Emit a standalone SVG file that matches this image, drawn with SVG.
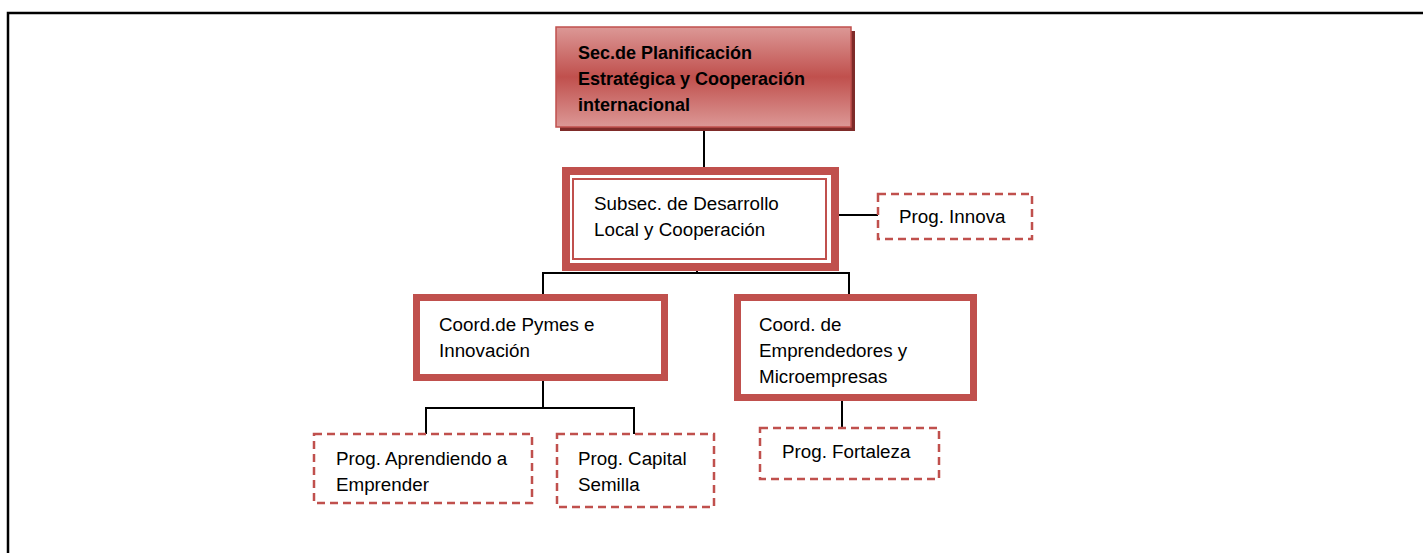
<svg xmlns="http://www.w3.org/2000/svg" width="1423" height="553" viewBox="0 0 1423 553">
<style>
text{font-family:"Liberation Sans",Arial,sans-serif;font-size:18.8px;fill:#000}
.b{font-weight:bold;font-size:18px}
.thick{fill:#fff;stroke:#c0504d;stroke-width:7}
.dash{fill:#fff;stroke:#c0504d;stroke-width:2.5;stroke-dasharray:8 5}
.con line,.con path{stroke:#000;stroke-width:2;fill:none}
</style>
<defs>
<linearGradient id="g" x1="0" y1="0" x2="0" y2="1">
<stop offset="0" stop-color="#dc9896"/>
<stop offset="0.5" stop-color="#c0504d"/>
<stop offset="1" stop-color="#dc9896"/>
</linearGradient>
</defs>
<rect width="1423" height="553" fill="#fff"/>
<path d="M8,553 V13 H1423" fill="none" stroke="#000" stroke-width="2.5"/>
<g class="con">
<line x1="704" y1="127" x2="704" y2="168"/>
<line x1="839" y1="215" x2="878" y2="215"/>
<path d="M697,271 V273 M543,294 V273 H849 V294"/>
<path d="M543,381 V408 M426,434 V408 H634 V434"/>
<line x1="842" y1="401" x2="842" y2="428"/>
</g>
<g id="sec">
<rect x="560" y="31" width="295" height="100" fill="#7f2b29"/>
<rect x="556" y="27" width="295" height="100" fill="url(#g)" stroke="#c0504d" stroke-width="1.5"/>
<text class="b" x="578" y="59">Sec.de Planificación</text>
<text class="b" x="578" y="85">Estratégica y Cooperación</text>
<text class="b" x="578" y="111">internacional</text>
</g>
<g id="subsec">
<rect x="566" y="171" width="269" height="96" fill="#fff" stroke="#c0504d" stroke-width="8"/>
<rect x="573" y="179" width="253" height="80" fill="#fff" stroke="#c0504d" stroke-width="2"/>
<text x="594" y="210">Subsec. de Desarrollo</text>
<text x="594" y="236">Local y Cooperación</text>
</g>
<g id="innova">
<rect class="dash" x="878" y="194" width="154" height="45"/>
<text x="899" y="223">Prog. Innova</text>
</g>
<g id="pymes">
<rect class="thick" x="416.5" y="297.5" width="248" height="80"/>
<text x="439" y="331">Coord.de Pymes e</text>
<text x="439" y="357">Innovación</text>
</g>
<g id="empr">
<rect class="thick" x="737.5" y="297.5" width="236" height="100"/>
<text x="759" y="331">Coord. de</text>
<text x="759" y="357">Emprendedores y</text>
<text x="759" y="383">Microempresas</text>
</g>
<g id="aprend">
<rect class="dash" x="314" y="434" width="218" height="69"/>
<text x="336" y="465">Prog. Aprendiendo a</text>
<text x="336" y="491">Emprender</text>
</g>
<g id="capital">
<rect class="dash" x="557" y="434" width="157" height="73"/>
<text x="578" y="465">Prog. Capital</text>
<text x="578" y="491">Semilla</text>
</g>
<g id="fortaleza">
<rect class="dash" x="760" y="428" width="179" height="51"/>
<text x="782" y="458">Prog. Fortaleza</text>
</g>
</svg>
